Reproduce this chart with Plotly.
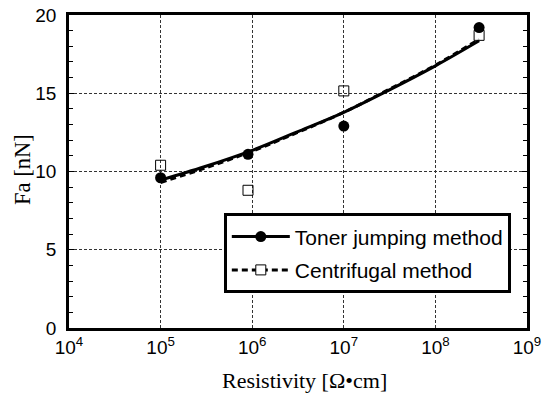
import plotly.graph_objects as go

# Data points
resistivity = [1e5, 9e5, 1e7, 3e8]
toner_fa = [9.6, 11.1, 12.9, 19.2]
centrifugal_fa = [10.4, 8.8, 15.15, 18.7]

# Fitted curves
fit_x = [1e5, 3e5, 1e6, 3e6, 1e7, 3e7, 1e8, 3e8]
toner_fit = [9.45, 10.3, 11.35, 12.5, 13.78, 15.15, 16.75, 18.35]
centrifugal_fit = [9.3, 10.2, 11.3, 12.45, 13.78, 15.2, 16.8, 18.45]

names = ["Toner jumping method", "Centrifugal method"]
x_ticks = [1e4, 1e5, 1e6, 1e7, 1e8, 1e9]
x_ticktext = ["10<sup>4</sup>", "10<sup>5</sup>", "10<sup>6</sup>",
              "10<sup>7</sup>", "10<sup>8</sup>", "10<sup>9</sup>"]
y_ticks = [0, 5, 10, 15, 20]
x_title = "Resistivity [Ω•cm]"
y_title = "Fa [nN]"

sans = "Arial, Liberation Sans, sans-serif"
serif = "Times New Roman, Liberation Serif, serif"

fig = go.Figure()

fig.add_trace(go.Scatter(x=fit_x, y=centrifugal_fit, mode="lines",
                         line=dict(color="black", width=3, dash="6px,4px", shape="spline"),
                         showlegend=False, hoverinfo="skip"))
fig.add_trace(go.Scatter(x=fit_x, y=toner_fit, mode="lines",
                         line=dict(color="black", width=3, shape="spline"),
                         showlegend=False, hoverinfo="skip"))
fig.add_trace(go.Scatter(x=resistivity, y=centrifugal_fa, mode="markers",
                         marker=dict(symbol="square-open", size=10, color="black",
                                     line=dict(width=1)),
                         showlegend=False))
fig.add_trace(go.Scatter(x=resistivity, y=toner_fa, mode="markers",
                         marker=dict(symbol="circle", size=11, color="black"),
                         showlegend=False))

# legend entries
fig.add_trace(go.Scatter(x=[None], y=[None], mode="lines+markers", name=names[0],
                         legendgroup="a",
                         line=dict(color="black", width=3),
                         marker=dict(symbol="circle", size=11, color="black")))
fig.add_trace(go.Scatter(x=[None], y=[None], mode="lines+markers", name=names[1],
                         legendgroup="b",
                         line=dict(color="black", width=3, dash="6px,4px"),
                         marker=dict(symbol="square", size=10, color="white",
                                     line=dict(color="black", width=1))))

fig.update_layout(
    width=550, height=395,
    margin=dict(l=69, r=23, t=15, b=67, autoexpand=False),
    paper_bgcolor="white", plot_bgcolor="white",
    font=dict(family=sans, size=18, color="black"),
    legend=dict(x=0.338, y=0.366, xanchor="left", yanchor="top",
                bgcolor="white", bordercolor="black", borderwidth=3,
                font=dict(family=sans, size=21, color="black"),
                tracegroupgap=3, itemwidth=58),
    annotations=[
        dict(text=x_title, xref="paper", yref="paper", x=0.515, y=-0.168,
             xanchor="center", yanchor="middle", showarrow=False,
             font=dict(family=serif, size=22, color="black")),
        dict(text=y_title, xref="paper", yref="paper", x=-0.1004, y=0.505,
             xanchor="center", yanchor="middle", showarrow=False, textangle=-90,
             font=dict(family=serif, size=22.5, color="black")),
    ],
)

fig.update_xaxes(
    type="log", range=[4, 9], automargin=False,
    tickvals=x_ticks, ticktext=x_ticktext, ticks="",
    showline=True, linecolor="black", linewidth=2.5, mirror=True,
    showgrid=True, gridcolor="#333", gridwidth=1, griddash="3px,2px",
    tickfont=dict(family=sans, size=19),
    zeroline=False,
)

fig.update_yaxes(
    range=[0, 20], tickvals=y_ticks, automargin=False,
    ticks="inside", ticklen=5, tickwidth=1, tickcolor="black",
    minor=dict(dtick=1, ticks="inside", ticklen=4, tickwidth=1, tickcolor="black", showgrid=False),
    showline=True, linecolor="black", linewidth=2.5, mirror="allticks",
    showgrid=True, gridcolor="#333", gridwidth=1, griddash="3px,2px",
    tickfont=dict(family=sans, size=19), ticklabelstandoff=6,
    zeroline=False,
)

fig.write_html("out.html")
